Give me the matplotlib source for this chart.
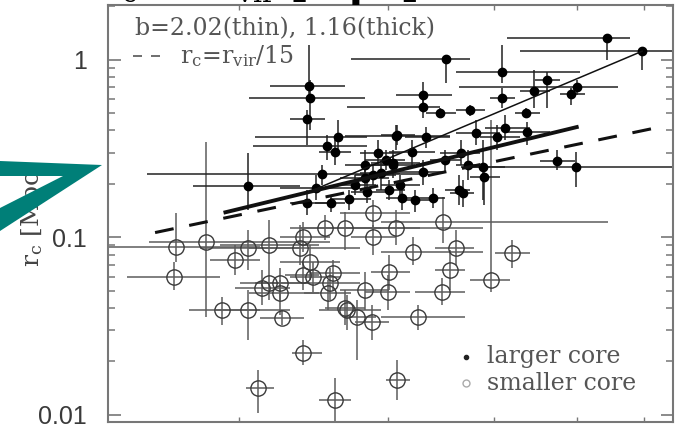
import matplotlib
matplotlib.use("Agg")
import matplotlib.pyplot as plt
import numpy as np
from matplotlib.path import Path
from matplotlib.patches import PathPatch
from matplotlib.transforms import Affine2D
from matplotlib.ticker import FixedLocator, NullLocator, NullFormatter, LogLocator

plt.rcParams['mathtext.fontset'] = 'dejavuserif'

# clusters with the larger core: r_vir [Mpc], r_c [Mpc] and error ranges
big_rvir = [5.43, 5.97, 3.51, 4.08, 3.30, 3.30, 3.45, 3.74, 4.08, 4.45, 4.61, 4.36, 5.00, 4.92,
            2.42, 2.43, 2.41, 2.05, 2.62, 2.54, 2.60, 2.51, 2.82, 2.92, 3.06, 3.04, 2.47, 2.41,
            2.57, 2.70, 2.82, 2.83, 2.88, 3.07, 3.32, 3.81, 4.03, 4.12, 4.37, 3.20, 3.65, 3.04,
            3.30, 3.88, 3.89, 4.74, 4.99, 3.11, 3.23, 3.39, 3.63, 3.67, 3.72, 2.94, 2.98, 3.10,
            3.01, 2.74, 3.50]
big_rvir_lo = [4.14, 4.29, 2.71, 3.60, 3.06, 2.68, 3.32, 3.60, 3.95, 4.29, 4.47, 4.23, 3.63, 4.78,
               2.18, 2.06, 2.30, 1.77, 2.09, 2.08, 2.49, 1.56, 2.67, 2.78, 2.67, 2.86, 2.24, 2.30,
               2.46, 2.56, 2.63, 2.71, 2.74, 2.94, 3.14, 3.60, 3.85, 3.90, 4.12, 3.01, 3.45, 2.86,
               3.10, 3.65, 3.74, 4.53, 3.74, 2.98, 3.10, 3.27, 3.50, 3.55, 3.60, 2.78, 2.82, 2.94,
               2.90, 2.60, 3.36]
big_rvir_hi = [5.78, 6.47, 3.74, 5.04, 3.57, 3.45, 3.60, 3.90, 4.23, 4.65, 4.78, 4.53, 5.59, 5.11,
               2.67, 2.82, 2.53, 2.36, 2.83, 2.83, 2.71, 3.27, 2.98, 3.10, 3.55, 3.27, 2.78, 2.56,
               2.67, 2.86, 3.01, 2.98, 3.06, 3.23, 3.55, 4.06, 4.29, 4.40, 4.65, 3.41, 3.85, 3.23,
               3.50, 4.12, 4.06, 4.98, 6.47, 3.27, 3.36, 3.50, 3.74, 3.79, 3.85, 3.10, 3.14, 3.27,
               3.14, 2.90, 3.65]
big_rc = [1.32, 1.12, 1.01, 0.851, 0.631, 0.541, 0.500, 0.520, 0.607, 0.665, 0.767, 0.500, 0.700,
          0.640, 0.710, 0.607, 0.463, 0.194, 0.366, 0.326, 0.302, 0.227, 0.255, 0.298, 0.371,
          0.262, 0.189, 0.156, 0.156, 0.164, 0.215, 0.180, 0.224, 0.376, 0.366, 0.386, 0.366,
          0.412, 0.391, 0.302, 0.298, 0.255, 0.233, 0.248, 0.218, 0.269, 0.248, 0.166, 0.162,
          0.166, 0.184, 0.177, 0.255, 0.230, 0.272, 0.197, 0.184, 0.197, 0.272]
big_rc_lo = [0.99, 0.873, 0.738, 0.738, 0.533, 0.469, 0.469, 0.481, 0.533, 0.533, 0.533, 0.469,
             0.631, 0.555, 0.592, 0.401, 0.330, 0.142, 0.310, 0.272, 0.255, 0.197, 0.210, 0.255,
             0.310, 0.224, 0.162, 0.133, 0.139, 0.142, 0.184, 0.156, 0.197, 0.330, 0.318, 0.330,
             0.310, 0.352, 0.330, 0.255, 0.255, 0.215, 0.197, 0.162, 0.152, 0.239, 0.192, 0.142,
             0.139, 0.146, 0.152, 0.148, 0.210, 0.184, 0.239, 0.173, 0.162, 0.173, 0.233]
big_rc_hi = [1.32, 1.12, 1.01, 1.21, 0.747, 0.592, 0.533, 0.555, 0.691, 0.873, 0.851, 0.533,
             0.767, 0.691, 1.21, 0.767, 0.520, 0.298, 0.457, 0.376, 0.352, 0.255, 0.310, 0.352,
             0.428, 0.310, 0.224, 0.184, 0.173, 0.184, 0.245, 0.210, 0.255, 0.428, 0.417, 0.457,
             0.428, 0.487, 0.445, 0.352, 0.352, 0.290, 0.272, 0.352, 0.245, 0.310, 0.302, 0.189,
             0.184, 0.189, 0.224, 0.210, 0.310, 0.272, 0.310, 0.224, 0.210, 0.224, 0.310]

# clusters with the smaller core
small_rvir = [1.69, 1.68, 1.83, 1.98, 2.05, 2.17, 2.36, 2.38, 2.53, 2.67, 2.88, 2.88, 3.06, 3.01,
              3.00, 2.13, 2.17, 2.24, 2.24, 2.43, 2.38, 2.45, 2.56, 2.55, 2.58, 2.82, 1.91, 2.05,
              2.25, 2.68, 2.38, 2.11, 2.60, 2.76, 2.87, 2.67, 3.07, 3.48, 3.60, 4.20, 3.21, 3.55,
              3.96, 3.47, 3.25]
small_rvir_lo = [1.40, 1.48, 1.57, 1.85, 1.80, 1.90, 2.06, 2.24, 2.30, 2.36, 2.63, 2.71, 2.67, 2.86,
                 2.82, 1.98, 2.01, 2.09, 2.06, 2.24, 2.27, 2.30, 2.36, 2.39, 2.43, 2.63, 1.75, 1.88,
                 2.12, 2.49, 2.31, 2.04, 2.49, 2.67, 2.74, 2.53, 2.98, 2.94, 3.41, 4.01, 2.94, 3.41,
                 3.74, 3.23, 2.94]
small_rvir_hi = [2.12, 1.90, 2.56, 2.12, 2.36, 2.49, 2.78, 2.56, 2.94, 3.27, 3.18, 3.06, 3.88, 3.18,
                 3.18, 2.30, 2.36, 2.43, 2.49, 2.63, 2.49, 2.63, 2.78, 2.71, 2.78, 3.01, 2.12, 2.30,
                 2.39, 2.94, 2.51, 2.20, 2.71, 2.90, 3.01, 2.82, 3.18, 5.44, 3.79, 4.40, 3.88, 3.69,
                 4.17, 3.69, 3.69]
small_rc = [0.0881, 0.0598, 0.0940, 0.0745, 0.0870, 0.0905, 0.0870, 0.100, 0.113, 0.113, 0.137,
            0.100, 0.113, 0.0637, 0.0492, 0.0518, 0.0553, 0.0553, 0.0486, 0.0726, 0.0613, 0.0598,
            0.0553, 0.0486, 0.0629, 0.0505, 0.0390, 0.0390, 0.0351, 0.0390, 0.0223, 0.0142, 0.0121,
            0.0356, 0.0334, 0.0400, 0.0157, 0.122, 0.0870, 0.0815, 0.0826, 0.0654, 0.0575, 0.0492,
            0.0356]
small_rc_lo = [0.0726, 0.0505, 0.0356, 0.0613, 0.0654, 0.0698, 0.0698, 0.0826, 0.0965, 0.0848,
               0.110, 0.0795, 0.0905, 0.0505, 0.0390, 0.0416, 0.0444, 0.0444, 0.0365, 0.0575,
               0.0505, 0.0492, 0.0444, 0.0390, 0.0505, 0.0390, 0.0321, 0.0264, 0.0321, 0.0301,
               0.0191, 0.0103, 0.0091, 0.0204, 0.0264, 0.0321, 0.0121, 0.0928, 0.0698, 0.0671,
               0.0698, 0.0505, 0.0492, 0.0416, 0.0301]
small_rc_hi = [0.137, 0.0726, 0.343, 0.0905, 0.110, 0.125, 0.117, 0.122, 0.133, 0.139, 0.162,
               0.117, 0.142, 0.0795, 0.0613, 0.0654, 0.0698, 0.0671, 0.0575, 0.0905, 0.0726,
               0.0726, 0.0671, 0.0575, 0.0745, 0.0637, 0.0461, 0.0505, 0.0390, 0.0473, 0.0264,
               0.0179, 0.0162, 0.0444, 0.0416, 0.0505, 0.0204, 0.168, 0.110, 0.0965, 0.100,
               0.0848, 0.457, 0.059, 0.0416]

# power-law fits r_c = amp * r_vir**b over the fitted r_vir range
thin_b, thin_amp, thin_range = 2.02, 0.0302, (2.45, 5.97)
thick_b, thick_amp, thick_range = 1.16, 0.0645, (1.93, 5.00)
vir_frac, vir_range = 15, (1.595, 6.36)

x_ticks = [2, 3, 4, 5, 6]
y_ticks = [0.01, 0.1, 1]
y_ticklabels = ['0.01', '0.1', '1']


def bars(v, lo, hi):
    v, lo, hi = np.asarray(v), np.asarray(lo), np.asarray(hi)
    return [v - lo, hi - v]


fig = plt.figure(figsize=(6.79, 4.26), dpi=100)
ax = fig.add_axes([108 / 679, 4 / 426, 565 / 679, 417 / 426])
ax.set_xscale('log')
ax.set_yscale('log')

# smaller core: open circles, grey error bars
ax.errorbar(small_rvir, small_rc,
            xerr=bars(small_rvir, small_rvir_lo, small_rvir_hi),
            yerr=bars(small_rc, small_rc_lo, small_rc_hi),
            fmt='o', ms=11, mfc='none', mec='#3a3a3a', mew=1.0,
            ecolor='#5c5c5c', elinewidth=1.1, capsize=0, zorder=2)

# larger core: filled dots, dark error bars
ax.errorbar(big_rvir, big_rc,
            xerr=bars(big_rvir, big_rvir_lo, big_rvir_hi),
            yerr=bars(big_rc, big_rc_lo, big_rc_hi),
            fmt='o', ms=6, mfc='black', mec='black',
            ecolor='#222222', elinewidth=1.1, capsize=0, zorder=3)

# fitted relations and the r_vir/15 reference line
r = np.geomspace(*thin_range, 50)
ax.plot(r, thin_amp * r ** thin_b, color='#111111', lw=1.1, zorder=4)
r = np.geomspace(*thick_range, 50)
ax.plot(r, thick_amp * r ** thick_b, color='#111111', lw=2.8, zorder=4)
r = np.geomspace(*vir_range, 50)
ax.plot(r, r / vir_frac, color='#111111', lw=2.2, dashes=(6.2, 5.2), zorder=4)

ax.set_xlim(1.404, 6.49)
ax.set_ylim(0.00913, 2.03)

ax.xaxis.set_major_locator(FixedLocator(x_ticks))
ax.xaxis.set_minor_locator(NullLocator())
ax.xaxis.set_major_formatter(NullFormatter())
ax.set_yticks(y_ticks)
ax.set_yticklabels(y_ticklabels)
ax.yaxis.set_minor_locator(LogLocator(base=10, subs=np.arange(2, 10)))
ax.yaxis.set_minor_formatter(NullFormatter())

ax.tick_params(axis='x', which='major', direction='in', length=3.5, width=1.0,
               top=True, bottom=True, color='#777777')
ax.tick_params(axis='y', which='major', direction='in', length=9, width=1.2,
               left=True, right=True, color='#777777', pad=15)
ax.tick_params(axis='y', which='minor', direction='in', length=5, width=1.1,
               left=True, right=True, color='#777777')
for lab in ax.get_yticklabels():
    lab.set_fontfamily('Liberation Sans')
    lab.set_fontsize(18)
    lab.set_color('#3a3a3a')
    lab.set_verticalalignment('center_baseline')
for s in ax.spines.values():
    s.set_color('#777777')
    s.set_linewidth(1.5)

txt_color = '#555555'
serif = 'DejaVu Serif'
ax.text(0.048, 0.942, 'b=2.02(thin), 1.16(thick)', transform=ax.transAxes,
        family=serif, fontsize=17, color=txt_color, va='center', ha='left')
ax.plot([0.044, 0.097], [0.878, 0.878], transform=ax.transAxes, color=txt_color,
        lw=1.2, dashes=(5.4, 5.4))
ax.text(0.127, 0.878, r'r$_{\rm c}$=r$_{\rm vir}$/15', transform=ax.transAxes,
        family=serif, fontsize=17, color=txt_color, va='center', ha='left')

ax.plot([0.634], [0.156], 'o', transform=ax.transAxes, ms=3, color='#222222')
ax.text(0.671, 0.156, 'larger core', transform=ax.transAxes,
        family=serif, fontsize=17, color=txt_color, va='center', ha='left')
ax.plot([0.634], [0.0935], 'o', transform=ax.transAxes, ms=5, mfc='none',
        mec='#aaaaaa', mew=1.0)
ax.text(0.671, 0.0935, 'smaller core', transform=ax.transAxes,
        family=serif, fontsize=17, color=txt_color, va='center', ha='left')

# axis label and heading
fig.text(33 / 679, 1 - 214 / 426, r'r$_{\rm c}$ [Mpc]', rotation=90,
         family=serif, fontsize=18, color='#444444', ha='center', va='center')
fig.text(418 / 679, 1 + 4 / 426, r'r$_{\rm c}$ vs r$_{\rm vir}$ [Mpc]',
         fontsize=29, fontweight='bold', color='black', ha='right', va='baseline')

# teal arrow head at the left edge
px_to_fig = Affine2D().scale(1 / 679, -1 / 426).translate(0, 1) + fig.transFigure
outer = [(0, 161), (102, 165), (0, 231), (0, 161)]
inner = [(0, 176), (0, 208), (63, 176), (0, 176)]
verts = outer + inner
codes = ([Path.MOVETO] + [Path.LINETO] * 2 + [Path.CLOSEPOLY]) * 2
arrow = PathPatch(Path(verts, codes), facecolor='#007f78', edgecolor='none',
                  transform=px_to_fig, zorder=10)
fig.add_artist(arrow)

fig.savefig('out.png', dpi=100)
